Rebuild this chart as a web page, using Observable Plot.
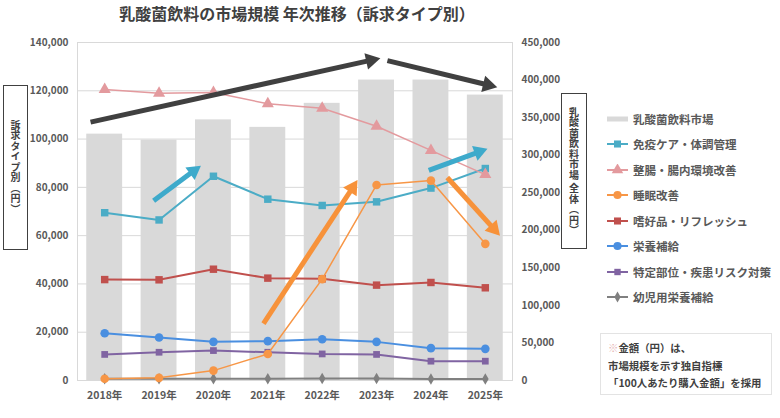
<!DOCTYPE html>
<html><head><meta charset="utf-8">
<script src="https://cdn.jsdelivr.net/npm/d3@7"></script>
<script src="https://cdn.jsdelivr.net/npm/@observablehq/plot@0.6"></script>
<style>
html,body{margin:0;padding:0;background:#fff;}
#wrap{position:relative;width:780px;height:418px;font-family:"Noto Sans CJK JP","Noto Sans",sans-serif;color:#595959;overflow:hidden;}
#title{position:absolute;left:0;width:594px;top:3px;text-align:center;font-size:16px;font-weight:bold;color:#404040;line-height:20px;}
#chart{position:absolute;left:0;top:0;}
.vbox{position:absolute;border:1.5px solid #404040;box-sizing:border-box;display:flex;align-items:center;justify-content:center;}
.vbox span{writing-mode:vertical-rl;font-size:10px;font-weight:bold;color:#404040;letter-spacing:0.5px;}
#legend{position:absolute;left:607px;top:106px;}
.lg{display:flex;align-items:center;height:25.5px;font-size:11.5px;font-weight:bold;color:#595959;white-space:nowrap;}
.lg svg{margin-right:4px;}
#note{position:absolute;left:600px;top:333px;width:172px;height:62px;border:1px solid #e3e3e3;box-sizing:border-box;padding:5px 0 0 7px;font-size:10.4px;font-weight:bold;color:#404040;line-height:17.5px;white-space:nowrap;}
</style></head>
<body>
<div id="wrap">
  <div id="chart"></div>
  <div id="title">乳酸菌飲料の市場規模 年次推移（訴求タイプ別）</div>
  <div class="vbox" style="left:3px;top:85px;width:25px;height:165px;"><span>訴求タイプ別（円）</span></div>
  <div class="vbox" style="left:561px;top:93px;width:26px;height:156px;"><span>乳酸菌飲料市場 全体（円）</span></div>
  <div id="legend"></div>
  <div id="note"><span style="color:#e6b3b3">※</span>金額（円）は、<br>市場規模を示す独自指標<br>「100人あたり購入金額」を採用</div>
</div>
<script>
// ---- data ----
const years = [2018, 2019, 2020, 2021, 2022, 2023, 2024, 2025];
const marketName = "乳酸菌飲料市場";
const marketTotal = [328000, 320000, 347000, 337000, 369000, 400000, 400000, 380000];
const seriesNames = ["免疫ケア・体調管理", "整腸・腸内環境改善", "睡眠改善", "嗜好品・リフレッシュ", "栄養補給", "特定部位・疾患リスク対策", "幼児用栄養補給"];
const immune    = [69500, 66500, 84600, 75100, 72500, 74000, 79700, 87800];
const gut       = [120500, 119000, 119300, 114600, 112800, 105300, 95300, 85300];
const sleep     = [700, 1100, 4100, 11000, 42000, 81000, 82800, 56600];
const refresh   = [41800, 41700, 46100, 42400, 42100, 39500, 40600, 38400];
const nutrition = [19600, 17800, 16000, 16300, 17100, 16000, 13400, 13100];
const specific  = [10800, 11700, 12400, 11700, 11000, 10800, 8000, 8000];
const infant    = [700, 700, 700, 700, 800, 800, 600, 600];
const leftTicks = [0, 20000, 40000, 60000, 80000, 100000, 120000, 140000];
const rightTicks = [0, 50000, 100000, 150000, 200000, 250000, 300000, 350000, 400000, 450000];
// trend annotation arrows (year position, left-axis value); (x2, y2) is the tip
const arrowX1 = [2017.74, 2023.2, 2018.9, 2023.96, 2020.92, 2024.3];
const arrowY1 = [107000, 132500, 74500, 87000, 23600, 84100];
const arrowX2 = [2023.07, 2025.22, 2019.77, 2025.04, 2022.65, 2025.27];
const arrowY2 = [133500, 121500, 89000, 96000, 83000, 60000];
const arrowKind = ["total", "total", "immune", "immune", "sleep", "sleep"];

// ---- styles ----
const colors = {
  "免疫ケア・体調管理": "#4bacc6",
  "整腸・腸内環境改善": "#e39a9e",
  "睡眠改善": "#f79646",
  "嗜好品・リフレッシュ": "#c0504d",
  "栄養補給": "#4a8fe0",
  "特定部位・疾患リスク対策": "#8064a2",
  "幼児用栄養補給": "#808080"
};
const symbols = {
  "免疫ケア・体調管理": ["square", 4.2],
  "整腸・腸内環境改善": ["triangle", 4.5],
  "睡眠改善": ["circle", 4.3],
  "嗜好品・リフレッシュ": ["square", 4.2],
  "栄養補給": ["circle", 4.3],
  "特定部位・疾患リスク対策": ["square", 3.8],
  "幼児用栄養補給": ["diamond", 3.5]
};
const lineW = {"整腸・腸内環境改善": 1.5, "睡眠改善": 1.5};
const arrowColors = {total: "#404040", immune: "#3eaacb", sleep: "#f7923a"};
const headR = {total: 6.2, immune: 5.8, sleep: 6.0};

const seriesValues = [immune, gut, sleep, refresh, nutrition, specific, infant];
const k = 140000 / 450000;

const bars = years.map((y, i) => ({year: y, v: marketTotal[i] * k}));
const arrows = arrowX1.map((x, i) => ({x1: x, y1: arrowY1[i], x2: arrowX2[i], y2: arrowY2[i], kind: arrowKind[i]}));

function baseMarks() {
  const marks = [
    Plot.gridY(leftTicks, {stroke: "#d9d9d9", strokeOpacity: 1}),
    Plot.frame({stroke: "#d9d9d9"}),
    Plot.rectY(bars, {x1: d => d.year - 0.33, x2: d => d.year + 0.33, y: "v", fill: "#d9d9d9"})
  ];
  const order = [5, 4, 3, 0, 1, 6, 2];
  for (const si of order) {
    const name = seriesNames[si];
    const data = years.map((y, i) => ({year: y, v: seriesValues[si][i]}));
    marks.push(Plot.line(data, {x: "year", y: "v", stroke: colors[name], strokeWidth: lineW[name] || 2}));
    marks.push(Plot.dot(data, {x: "year", y: "v", fill: colors[name], stroke: null, symbol: symbols[name][0], r: symbols[name][1]}));
  }
  return marks;
}
function axisMarks() {
  return [
    Plot.axisY({ticks: leftTicks, anchor: "left", tickSize: 0, tickPadding: 9, tickFormat: d3.format(","), fontSize: 10, fontWeight: "bold", fill: "#595959", label: null}),
    Plot.axisY({ticks: rightTicks.map(v => v * k), anchor: "right", tickSize: 0, tickPadding: 9, tickFormat: d => d3.format(",")(Math.round(d / k)), fontSize: 10, fontWeight: "bold", fill: "#595959", label: null}),
    Plot.axisX({ticks: years, tickSize: 0, tickPadding: 11, tickFormat: d => d + "年", fontSize: 10.5, fontWeight: "bold", fill: "#595959", label: null})
  ];
}
const plotOpts = {
  width: 780,
  height: 418,
  marginTop: 42,
  marginBottom: 38,
  marginLeft: 77,
  marginRight: 268,
  style: {fontFamily: '"Noto Sans CJK JP", sans-serif', background: "transparent"},
  x: {domain: [2017.5, 2025.5]},
  y: {domain: [0, 140000]}
};

// first pass: get the scales to orient filled arrowheads
const probe = Plot.plot({...plotOpts, marks: [...baseMarks(), ...axisMarks()]});
let arrowMarks;
try {
  const sx = probe.scale("x"), sy = probe.scale("y");
  const shafts = [], heads = [];
  for (const a of arrows) {
    const X1 = sx.apply(a.x1), Y1 = sy.apply(a.y1), X2 = sx.apply(a.x2), Y2 = sy.apply(a.y2);
    const len = Math.hypot(X2 - X1, Y2 - Y1);
    const ux = (X2 - X1) / len, uy = (Y2 - Y1) / len;
    const r = headR[a.kind];
    const h = 0.7776 * r; // d3 triangle: tip at 2h, base at h from center
    const cx = X2 - 2 * h * ux, cy = Y2 - 2 * h * uy;
    const bx = X2 - 2.6 * h * ux, by = Y2 - 2.6 * h * uy;
    shafts.push({x1: a.x1, y1: a.y1, x2: sx.invert(bx), y2: sy.invert(by), kind: a.kind});
    heads.push({x: sx.invert(cx), y: sy.invert(cy), kind: a.kind, r, angle: Math.atan2(ux, -uy) * 180 / Math.PI});
  }
  arrowMarks = [
    Plot.link(shafts, {x1: "x1", y1: "y1", x2: "x2", y2: "y2", stroke: d => arrowColors[d.kind], strokeWidth: 5, strokeLinecap: "butt"}),
    Plot.dot(heads, {x: "x", y: "y", symbol: "triangle", r: "r", rotate: "angle", fill: d => arrowColors[d.kind], stroke: null})
  ];
} catch (e) {
  arrowMarks = [Plot.arrow(arrows, {x1: "x1", y1: "y1", x2: "x2", y2: "y2", stroke: d => arrowColors[d.kind], strokeWidth: 5, headLength: 3.6, headAngle: 75})];
}

const chart = Plot.plot({...plotOpts, r: {type: "identity"}, marks: [...baseMarks(), ...arrowMarks, ...axisMarks()]});
document.getElementById("chart").appendChild(chart);

// legend
const legend = d3.select("#legend");
const barItem = legend.append("div").attr("class", "lg");
const bs = barItem.append("svg").attr("width", 22).attr("height", 10);
bs.append("rect").attr("x", 0).attr("y", 2.5).attr("width", 21).attr("height", 5).attr("fill", "#d9d9d9");
barItem.append("span").text(marketName);
for (const name of seriesNames) {
  const it = legend.append("div").attr("class", "lg");
  const s = it.append("svg").attr("width", 22).attr("height", 12);
  s.append("line").attr("x1", 0).attr("x2", 21).attr("y1", 6).attr("y2", 6).attr("stroke", colors[name]).attr("stroke-width", 2);
  const typ = {square: d3.symbolSquare, triangle: d3.symbolTriangle, circle: d3.symbolCircle, diamond: d3.symbolDiamond}[symbols[name][0]];
  const r = symbols[name][1];
  s.append("path").attr("transform", "translate(10.5,6)").attr("d", d3.symbol(typ, Math.PI * r * r * 0.9)()).attr("fill", colors[name]);
  it.append("span").text(name);
}
</script>
</body></html>
